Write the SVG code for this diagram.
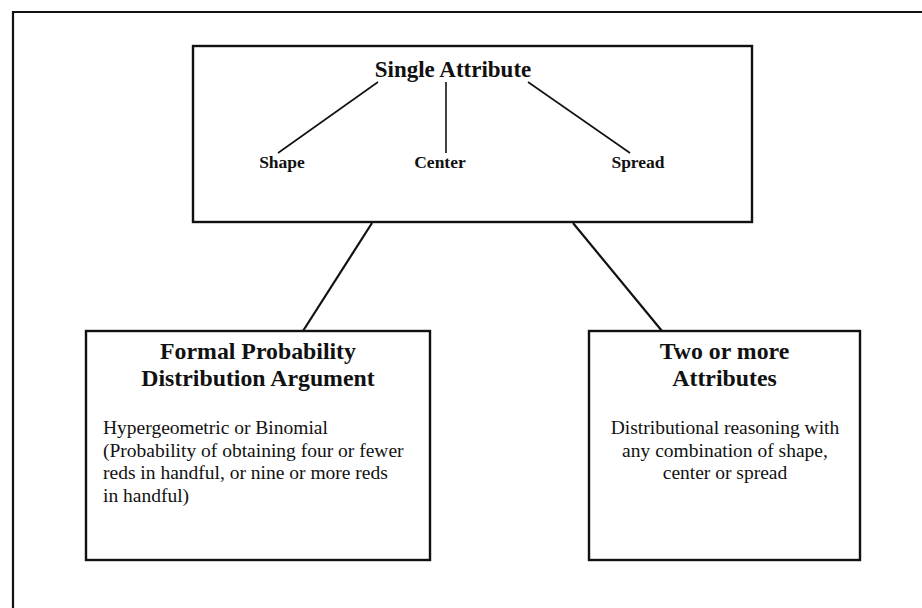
<svg xmlns="http://www.w3.org/2000/svg" width="922" height="608" viewBox="0 0 922 608">
<style>
.box{fill:#fff;stroke:#111;stroke-width:2.4}
.frame{fill:none;stroke:#111;stroke-width:2.2}
.ln{stroke:#111;stroke-width:1.6;fill:none}
.conn{stroke:#111;stroke-width:2.2;fill:none}
.t{font-family:"Liberation Serif","Times New Roman",serif;fill:#111;text-anchor:middle}
.h{font-size:23px;font-weight:bold}
.h2{font-size:23.8px;font-weight:bold}
.s{font-size:17.5px;font-weight:bold}
.b{font-size:19.5px}
.bl{text-anchor:start}
</style>
<rect width="922" height="608" fill="#fff"/>
<path class="frame" d="M13,620 V12 H930"/>
<g id="connectors">
<line class="conn" x1="372" y1="223" x2="303" y2="331"/>
<line class="conn" x1="573" y1="223" x2="662" y2="331"/>
</g>
<g id="single-attribute">
<rect class="box" x="193" y="46" width="559" height="176"/>
<text class="t h" x="453" y="77">Single Attribute</text>
<line class="ln" x1="378" y1="82" x2="278" y2="153"/>
<line class="ln" x1="446" y1="82" x2="446" y2="153"/>
<line class="ln" x1="528" y1="82" x2="630" y2="153"/>
<text class="t s" x="282" y="167.5">Shape</text>
<text class="t s" x="440" y="167.5">Center</text>
<text class="t s" x="638" y="167.5">Spread</text>
</g>
<g id="formal-probability">
<rect class="box" x="86" y="331" width="344" height="229"/>
<text class="t h2" x="258" y="359">Formal Probability</text>
<text class="t h2" x="258" y="386">Distribution Argument</text>
<text class="t b bl" x="103" y="434">Hypergeometric or Binomial</text>
<text class="t b bl" x="103" y="456.5">(Probability of obtaining four or fewer</text>
<text class="t b bl" x="103" y="479">reds in handful, or nine or more reds</text>
<text class="t b bl" x="103" y="501.5">in handful)</text>
</g>
<g id="two-or-more">
<rect class="box" x="589" y="331" width="271" height="229"/>
<text class="t h2" x="724.5" y="359">Two or more</text>
<text class="t h2" x="724.5" y="386">Attributes</text>
<text class="t b" x="725" y="434">Distributional reasoning with</text>
<text class="t b" x="725" y="456.5">any combination of shape,</text>
<text class="t b" x="725" y="479">center or spread</text>
</g>
</svg>
